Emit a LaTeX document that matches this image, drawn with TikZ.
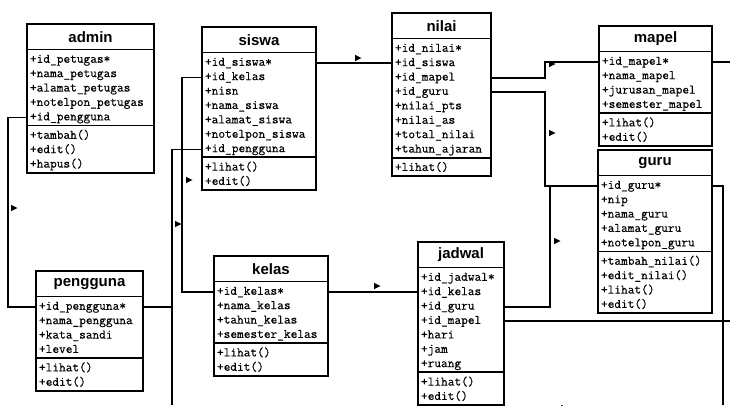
\documentclass[tikz,border=0pt]{standalone}
\usepackage{fontspec}
\newfontfamily\headfont{Liberation Sans}
\newfontfamily\rowfont{Latin Modern Mono}[FakeBold=0.4]
\usetikzlibrary{calc}

\tikzset{
  x=1pt, y=-1pt,
  box/.style={draw=black, line width=1.7pt, fill=white, outer sep=0pt, inner sep=0pt},
  hdr/.style={box, minimum height=25.5pt, font=\headfont\bfseries\fontsize{15}{15}\selectfont},
  sect/.style={box},
  row/.style={anchor=west, inner sep=0pt, outer sep=0pt,
    font=\rowfont\fontsize{13}{14}\selectfont, text height=8pt, text depth=2.5pt},
  conn/.style={draw=black, line width=1.5pt},
  dirmark/.pic={\fill[black] (-3,-3.2) -- (3.5,0) -- (-3,3.2) -- cycle;},
}

% class box: id, left, top, width, #attributes, #methods, title, attributes, methods
\newcommand\umlclass[9]{%
  \node[hdr, minimum width=#4pt, anchor=north west] (#1) at (#2,#3) {#7};
  \node[sect, minimum width=#4pt, minimum height={#5*14.4+4}, anchor=north west] (#1-a) at (#1.south west) {};
  \node[sect, minimum width=#4pt, minimum height={#6*14.4+4}, anchor=north west] (#1-m) at (#1-a.south west) {};
  \foreach \txt [count=\i] in {#8}
    \node[row] (#1-a\i) at ([shift={(3,10.5+14.4*\i-14.4)}]#1-a.north west) {\txt};
  \foreach \txt [count=\i] in {#9}
    \node[row] (#1-m\i) at ([shift={(3,10.5+14.4*\i-14.4)}]#1-m.north west) {\txt};
}

\begin{document}
\begin{tikzpicture}
\useasboundingbox (0,0) rectangle (730,405);
\fill[white] (0,0) rectangle (730,405);

\umlclass{admin}{27}{24}{127}{5}{3}{admin}
  {+id\_petugas*,+nama\_petugas,+alamat\_petugas,+notelpon\_petugas,+id\_pengguna}
  {+tambah(),+edit(),+hapus()}
\umlclass{siswa}{202}{27}{114}{7}{2}{siswa}
  {+id\_siswa*,+id\_kelas,+nisn,+nama\_siswa,+alamat\_siswa,+notelpon\_siswa,+id\_pengguna}
  {+lihat(),+edit()}
\umlclass{nilai}{392}{13}{99}{8}{1}{nilai}
  {+id\_nilai*,+id\_siswa,+id\_mapel,+id\_guru,+nilai\_pts,+nilai\_as,+total\_nilai,+tahun\_ajaran}
  {+lihat()}
\umlclass{mapel}{599}{26}{113}{4}{2}{mapel}
  {+id\_mapel*,+nama\_mapel,+jurusan\_mapel,+semester\_mapel}
  {+lihat(),+edit()}
\umlclass{guru}{598}{150}{114}{5}{4}{guru}
  {+id\_guru*,+nip,+nama\_guru,+alamat\_guru,+notelpon\_guru}
  {+tambah\_nilai(),+edit\_nilai(),+lihat(),+edit()}
\umlclass{pengguna}{36}{271}{107}{4}{2}{pengguna}
  {+id\_pengguna*,+nama\_pengguna,+kata\_sandi,+level}
  {+lihat(),+edit()}
\umlclass{kelas}{214}{256}{114}{4}{2}{kelas}
  {+id\_kelas*,+nama\_kelas,+tahun\_kelas,+semester\_kelas}
  {+lihat(),+edit()}
\umlclass{jadwal}{418}{242}{86}{7}{2}{jadwal}
  {+id\_jadwal*,+id\_kelas,+id\_guru,+id\_mapel,+hari,+jam,+ruang}
  {+lihat(),+edit()}

% routing columns and picture edges
\coordinate (busA) at (8,0);
\coordinate (busK) at (182,0);
\coordinate (busP) at (172,0);
\coordinate (busM) at (545,0);
\coordinate (busG) at (550,0);
\coordinate (busR) at (723,0);
\coordinate (edgeR) at (730,0);
\coordinate (edgeB) at (0,405);

% relations
\draw[conn] (admin-a.west |- admin-a5) -| (busA |- pengguna-a1) -- (pengguna-a.west |- pengguna-a1);
\draw[conn] (siswa-a.east |- siswa-a1) -- (nilai-a.west |- siswa-a1);
\draw[conn] (siswa-a.west |- siswa-a2) -| (busK |- kelas-a1) -- (kelas-a.west |- kelas-a1);
\draw[conn] (siswa-a.west |- siswa-a7) -| (busP |- edgeB);
\draw[conn] (pengguna-a.east |- pengguna-a1) -- (busP |- pengguna-a1);
\draw[conn] (nilai-a.east |- nilai-a3) -| (busM |- mapel-a1) -- (mapel-a.west |- mapel-a1);
\draw[conn] (nilai-a.east |- nilai-a4) -| (busM |- guru-a1) -- (guru-a.west |- guru-a1);
\draw[conn] (jadwal-a.east |- jadwal-a3) -| (busG |- guru-a1);
\draw[conn] (jadwal-a.east |- jadwal-a4) -- (edgeR |- jadwal-a4);
\draw[conn] (guru-a.east |- guru-a1) -| (busR |- edgeB);
\draw[conn] (mapel-a.east |- mapel-a1) -- (edgeR |- mapel-a1);
\draw[conn] (kelas-a.east |- kelas-a1) -- (jadwal-a.west |- kelas-a1);

% direction markers
\pic at (14,208) {dirmark};
\pic at (189,180) {dirmark};
\pic at (178,224) {dirmark};
\pic at (358,58) {dirmark};
\pic at (377,286) {dirmark};
\pic at (552,64) {dirmark};
\pic at (552,133) {dirmark};
\pic at (557,241) {dirmark};
\pic at (564,408) {dirmark};
\end{tikzpicture}
\end{document}
